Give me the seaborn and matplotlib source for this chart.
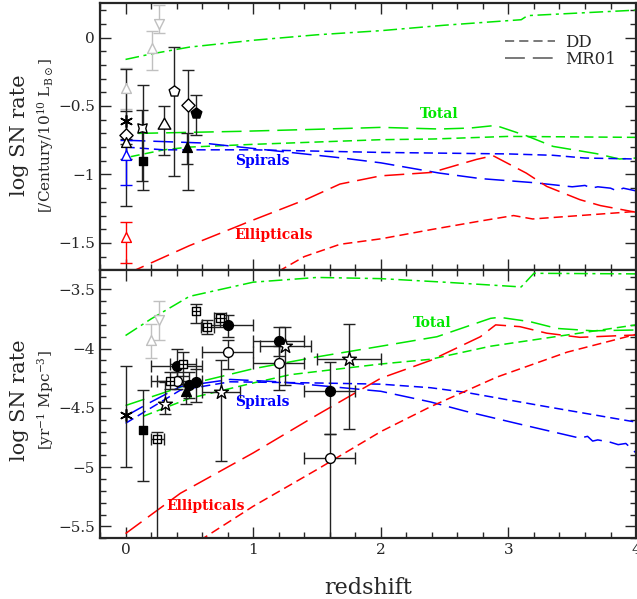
import numpy as np
import pandas as pd
import matplotlib
matplotlib.use("Agg")
import matplotlib.pyplot as plt
from matplotlib.ticker import MultipleLocator, FuncFormatter
from matplotlib.lines import Line2D
import seaborn as sns

sns.set_style("ticks")
plt.rcParams["font.family"] = ["DejaVu Serif"]
plt.rcParams["mathtext.fontset"] = "dejavuserif"

GREEN, BLUE, RED = "#00e600", "#0000ff", "#ff0000"
SHORT = (0, (6, 3.3))
LONG = (0, (13, 5.2))
DASHDOT = (0, (9, 3, 2, 3))

# ---------------- model curves: per luminosity (upper panel) ----------------
lum_total_sfr_z = [0.0, 0.2, 0.5, 1.0, 1.5, 2.0, 2.5, 3.1, 3.15, 4.0]
lum_total_sfr_v = [-0.16, -0.12, -0.07, -0.02, 0.02, 0.05, 0.09, 0.13, 0.16, 0.20]

lum_total_mr_z = [0.1, 0.9, 1.5, 1.87, 2.0, 2.46, 2.7, 2.9, 3.14, 3.35, 3.69, 3.87, 4.0]
lum_total_mr_v = [-0.70, -0.685, -0.67, -0.66, -0.656, -0.668, -0.661, -0.642,
                  -0.717, -0.795, -0.848, -0.887, -0.88]

lum_total_dd_z = [0.04, 0.3, 0.5, 1.0, 2.0, 2.41, 3.0, 4.0]
lum_total_dd_v = [-0.87, -0.82, -0.80, -0.78, -0.746, -0.741, -0.722, -0.729]

lum_spiral_mr_z = [0.0, 0.3, 0.6, 0.9, 1.3, 1.7, 2.0, 2.46, 2.78, 3.2, 3.5, 3.6, 3.65, 3.7, 3.8, 3.85, 3.9, 4.0]
lum_spiral_mr_v = [-0.75, -0.76, -0.77, -0.80, -0.84, -0.88, -0.915, -0.99, -1.03,
                   -1.06, -1.09, -1.08, -1.10, -1.09, -1.10, -1.12, -1.10, -1.12]

lum_spiral_dd_z = [0.0, 0.3, 1.0, 2.0, 3.0, 3.35, 3.6, 4.0]
lum_spiral_dd_v = [-0.80, -0.82, -0.82, -0.839, -0.85, -0.86, -0.88, -0.887]

lum_ellip_mr_z = [0.0, 0.5, 0.98, 1.42, 1.68, 2.0, 2.4, 2.75, 2.88, 3.14, 3.3, 3.56, 3.72, 4.0]
lum_ellip_mr_v = [-1.73, -1.52, -1.34, -1.18, -1.07, -1.01, -0.985, -0.89, -0.863,
                  -0.99, -1.087, -1.184, -1.227, -1.276]

lum_ellip_dd_z = [1.1, 1.4, 1.68, 2.0, 2.41, 2.78, 3.04, 3.19, 4.0]
lum_ellip_dd_v = [-1.76, -1.60, -1.51, -1.47, -1.40, -1.34, -1.30, -1.325, -1.27]

# ---------------- model curves: per volume (lower panel) ----------------
vol_total_sfr_z = [0.0, 0.2, 0.5, 1.0, 1.5, 2.0, 2.5, 3.1, 3.2, 4.0]
vol_total_sfr_v = [-3.89, -3.75, -3.56, -3.44, -3.40, -3.41, -3.44, -3.48, -3.365, -3.37]

vol_total_mr_z = [0.0, 0.5, 1.0, 1.5, 2.0, 2.44, 2.86, 2.93, 3.17, 3.38, 3.66, 4.0]
vol_total_mr_v = [-4.48, -4.30, -4.17, -4.07, -3.98, -3.90, -3.745, -3.736,
                  -3.773, -3.83, -3.85, -3.843]

vol_total_dd_z = [0.14, 0.5, 1.0, 1.29, 2.0, 2.39, 2.86, 3.46, 4.0]
vol_total_dd_v = [-4.57, -4.42, -4.29, -4.22, -4.13, -4.09, -3.98, -3.885, -3.80]

vol_spiral_mr_z = [0.0, 0.2, 0.43, 0.82, 1.2, 1.6, 2.0, 2.39, 2.67, 3.1, 3.56, 3.62, 3.66, 3.7, 3.8, 3.86, 3.92, 4.0]
vol_spiral_mr_v = [-4.57, -4.45, -4.32, -4.26, -4.28, -4.32, -4.36, -4.45, -4.53,
                   -4.64, -4.755, -4.74, -4.78, -4.77, -4.79, -4.81, -4.80, -4.88]

vol_spiral_dd_z = [0.0, 0.43, 0.82, 1.5, 2.0, 2.39, 2.67, 3.3, 4.0]
vol_spiral_dd_v = [-4.63, -4.35, -4.28, -4.29, -4.30, -4.33, -4.37, -4.49, -4.62]

vol_ellip_mr_z = [0.0, 0.43, 1.0, 1.5, 2.0, 2.39, 2.78, 2.90, 3.09, 3.3, 3.56, 4.0]
vol_ellip_mr_v = [-5.56, -5.22, -4.88, -4.56, -4.25, -4.10, -3.90, -3.80, -3.815,
                  -3.87, -3.905, -3.885]

vol_ellip_dd_z = [0.58, 1.0, 1.5, 2.0, 2.39, 2.91, 3.46, 4.0]
vol_ellip_dd_v = [-5.62, -5.33, -5.02, -4.70, -4.49, -4.24, -4.03, -3.88]

# ---------------- observed rates ----------------
# redshift, value, upper end, lower end, half-width in z, marker, filled, colour
lum_obs_z    = [0.0, 0.21, 0.26, 0.0, 0.0, 0.0, 0.0, 0.0, 0.13, 0.14, 0.30, 0.38, 0.49, 0.48, 0.55]
lum_obs_v    = [-0.37, -0.08, 0.10, -0.61, -0.71, -0.76, -0.86, -1.46, -0.66, -0.90, -0.64, -0.39, -0.49, -0.80, -0.55]
lum_obs_hi   = [-0.22, 0.05, 0.24, -0.23, -0.54, -0.74, -0.75, -1.35, -0.53, -0.35, -0.50, -0.07, -0.24, -0.70, -0.42]
lum_obs_lo   = [-0.52, -0.24, 0.03, -1.23, -0.89, -0.78, -1.08, -1.65, -1.05, -1.11, -0.86, -1.01, -1.11, -0.92, -0.71]
lum_obs_mark = ["^", "^", "v", "ast", "D", "^", "^", "^", "star4", "s", "star3", "p", "D", "^", "p"]
lum_obs_fill = [False, False, False, True, False, False, False, False, False, True, False, False, False, True, True]
lum_obs_col  = ["#c0c0c0", "#c0c0c0", "#c0c0c0", "k", "k", "k", BLUE, RED, "k", "k", "k", "k", "k", "k", "k"]

vol_obs_z    = [0.0, 0.20, 0.26, 0.14, 0.25, 0.31, 0.40, 0.40, 0.45, 0.35, 0.50, 0.475, 0.55, 0.55, 0.64, 0.74,
                0.80, 0.80, 0.75, 1.20, 1.25, 1.20, 1.60, 1.60, 1.75]
vol_obs_v    = [-4.56, -3.93, -3.76, -4.69, -4.76, -4.47, -4.15, -4.27, -4.13, -4.27, -4.31, -4.36, -4.28, -3.68,
                -3.815, -3.745, -3.80, -4.025, -4.37, -3.94, -3.98, -4.12, -4.36, -4.92, -4.09]
vol_obs_hi   = [-4.15, -3.79, -3.60, -4.35, -4.70, -4.28, -4.00, -4.20, -4.03, -4.20, -4.20, -4.30, -4.17, -3.62,
                -3.76, -3.70, -3.72, -3.93, -4.10, -3.82, -3.82, -3.98, -4.11, -4.72, -3.79]
vol_obs_lo   = [-5.00, -4.08, -3.93, -5.12, -6.00, -4.55, -4.30, -4.34, -4.23, -4.34, -4.42, -4.47, -4.45, -3.78,
                -3.88, -3.82, -3.90, -4.17, -4.95, -4.06, -4.31, -4.35, -4.72, -6.00, -4.68]
vol_obs_dz   = [0.0, 0.0, 0.0, 0.0, 0.05, 0.0, 0.2, 0.2, 0.1, 0.1, 0.0, 0.0, 0.0, 0.0,
                0.05, 0.05, 0.2, 0.2, 0.15, 0.2, 0.2, 0.2, 0.2, 0.2, 0.25]
vol_obs_mark = ["ast", "^", "v", "s", "sq+", "*", "o", "o", "sq+", "sq+", "o", "^", "o", "sq+",
                "sq+", "sq+", "o", "o", "*", "o", "*", "o", "o", "o", "*"]
vol_obs_fill = [True, False, False, True, False, False, True, False, False, False, True, True, True, False,
                False, False, True, False, False, True, False, False, True, False, False]
vol_obs_col  = ["k", "#c0c0c0", "#c0c0c0", "k", "k", "k", "k", "k", "k", "k", "k", "k", "k", "k",
                "k", "k", "k", "k", "k", "k", "k", "k", "k", "k", "k"]

MARKERS = {"ast": ((6, 2, 0), 70), "star4": ((4, 1, 45), 90), "star3": ((3, 1, 0), 110),
           "^": ("^", 50), "v": ("v", 50), "D": ("D", 45), "s": ("s", 40), "p": ("p", 65),
           "o": ("o", 50), "*": ("*", 110), "sq+": ("s", 40)}

fig = plt.figure(figsize=(6.37, 5.99), dpi=100)
ax1 = fig.add_axes([0.157, 0.5487, 0.8415, 0.4458])
ax2 = fig.add_axes([0.157, 0.1013, 0.8415, 0.4474])


def curve(ax, z, v, color, ls):
    sns.lineplot(x=z, y=v, ax=ax, color=color, linestyle=ls, linewidth=1.1, sort=False)


def observations(ax, z, v, hi, lo, dz, marks, fills, cols):
    for i in range(len(z)):
        ecol = "#222222" if cols[i] == "k" else cols[i]
        yerr = [[v[i] - lo[i]], [hi[i] - v[i]]]
        ax.errorbar([z[i]], [v[i]], yerr=yerr, xerr=[[dz[i]], [dz[i]]] if dz[i] > 0 else None,
                    fmt="none", ecolor=ecol, elinewidth=1.0, capsize=4.5, capthick=1.0, zorder=3)
    for i in range(len(z)):
        m, s = MARKERS[marks[i]]
        col = cols[i]
        if marks[i] == "ast":
            sns.scatterplot(x=[z[i]], y=[v[i]], ax=ax, marker=m, s=s, color=col, linewidth=1.2, zorder=5)
        elif fills[i]:
            sns.scatterplot(x=[z[i]], y=[v[i]], ax=ax, marker=m, s=s, color=col, edgecolor=col,
                            linewidth=1.0, zorder=5)
        else:
            sns.scatterplot(x=[z[i]], y=[v[i]], ax=ax, marker=m, s=s, facecolor="white", edgecolor=col,
                            linewidth=1.0, zorder=5)
        if marks[i] == "sq+":
            sns.scatterplot(x=[z[i]], y=[v[i]], ax=ax, marker="+", s=40, color=col, linewidth=0.9, zorder=6)


# upper panel curves
curve(ax1, lum_total_sfr_z, lum_total_sfr_v, GREEN, DASHDOT)
curve(ax1, lum_total_mr_z, lum_total_mr_v, GREEN, LONG)
curve(ax1, lum_total_dd_z, lum_total_dd_v, GREEN, SHORT)
curve(ax1, lum_spiral_mr_z, lum_spiral_mr_v, BLUE, LONG)
curve(ax1, lum_spiral_dd_z, lum_spiral_dd_v, BLUE, SHORT)
curve(ax1, lum_ellip_mr_z, lum_ellip_mr_v, RED, LONG)
curve(ax1, lum_ellip_dd_z, lum_ellip_dd_v, RED, SHORT)
observations(ax1, lum_obs_z, lum_obs_v, lum_obs_hi, lum_obs_lo, [0.0] * len(lum_obs_z),
             lum_obs_mark, lum_obs_fill, lum_obs_col)

# lower panel curves
curve(ax2, vol_total_sfr_z, vol_total_sfr_v, GREEN, DASHDOT)
curve(ax2, vol_total_mr_z, vol_total_mr_v, GREEN, LONG)
curve(ax2, vol_total_dd_z, vol_total_dd_v, GREEN, SHORT)
curve(ax2, vol_spiral_mr_z, vol_spiral_mr_v, BLUE, LONG)
curve(ax2, vol_spiral_dd_z, vol_spiral_dd_v, BLUE, SHORT)
curve(ax2, vol_ellip_mr_z, vol_ellip_mr_v, RED, LONG)
curve(ax2, vol_ellip_dd_z, vol_ellip_dd_v, RED, SHORT)
observations(ax2, vol_obs_z, vol_obs_v, vol_obs_hi, vol_obs_lo, vol_obs_dz,
             vol_obs_mark, vol_obs_fill, vol_obs_col)

# component labels
lab = dict(fontsize=10, fontweight="bold", ha="center", va="center")
ax1.text(2.46, -0.56, "Total", color=GREEN, **lab)
ax1.text(1.07, -0.90, "Spirals", color=BLUE, **lab)
ax1.text(1.16, -1.44, "Ellipticals", color=RED, **lab)
ax2.text(2.40, -3.78, "Total", color=GREEN, **lab)
ax2.text(1.07, -4.45, "Spirals", color=BLUE, **lab)
ax2.text(0.63, -5.33, "Ellipticals", color=RED, **lab)

# legend for the two delay-time models
handles = [Line2D([], [], color="#555555", lw=1.1, linestyle=SHORT),
           Line2D([], [], color="#555555", lw=1.1, linestyle=LONG)]
ax1.legend(handles, ["DD", "MR01"], loc="upper right", bbox_to_anchor=(0.985, 0.93),
           frameon=False, fontsize=12, handlelength=3.0, labelspacing=0.0,
           handletextpad=0.6, borderpad=0.2)

fmt = FuncFormatter(lambda v, p: ("%g" % v).replace("-", "\u2212"))
for ax, ylim in ((ax1, (-1.7, 0.25)), (ax2, (-5.6, -3.34))):
    ax.set_xlim(-0.2, 4.0)
    ax.set_ylim(*ylim)
    ax.xaxis.set_major_locator(MultipleLocator(1))
    ax.xaxis.set_minor_locator(MultipleLocator(0.2))
    ax.yaxis.set_major_locator(MultipleLocator(0.5))
    ax.yaxis.set_minor_locator(MultipleLocator(0.1))
    ax.yaxis.set_major_formatter(fmt)
    ax.xaxis.set_major_formatter(fmt)
    ax.tick_params(which="both", direction="in", top=True, right=True, width=1.0, labelsize=11)
    ax.tick_params(which="major", length=8)
    ax.tick_params(which="minor", length=4.5)
    for sp in ax.spines.values():
        sp.set_linewidth(1.6)
    ax.set_xlabel("")
    ax.set_ylabel("")
ax1.tick_params(labelbottom=False)
ax2.set_xlabel("redshift", fontsize=16, labelpad=14)

fig.text(0.030, 1 - 135 / 599, "log SN rate", rotation=90, fontsize=15, ha="center", va="center")
fig.text(0.071, 1 - 135 / 599, r"[/Century/10$^{10}$ L$_{\mathrm{B}\odot}$]", rotation=90,
         fontsize=11, ha="center", va="center")
fig.text(0.030, 1 - 400 / 599, "log SN rate", rotation=90, fontsize=15, ha="center", va="center")
fig.text(0.071, 1 - 400 / 599, r"[yr$^{-1}$ Mpc$^{-3}$]", rotation=90,
         fontsize=11, ha="center", va="center")

fig.savefig("out.png", dpi=100)
